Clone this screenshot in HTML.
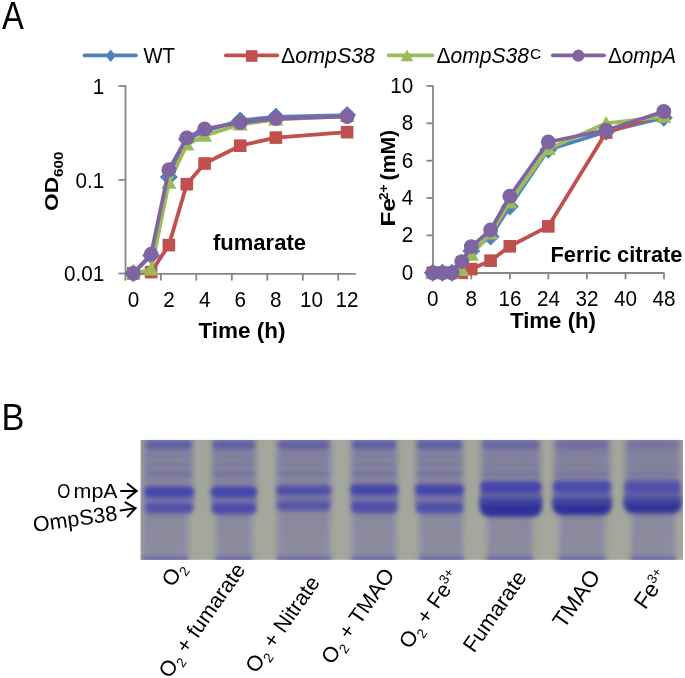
<!DOCTYPE html>
<html><head><meta charset="utf-8"><style>
html,body{margin:0;padding:0;background:#fff;}
svg{display:block;will-change:transform;}
</style></head><body>
<svg width="685" height="678" viewBox="0 0 685 678">
<defs>
<linearGradient id="lanegrad" gradientUnits="userSpaceOnUse" x1="0" y1="436" x2="0" y2="564"><stop offset="0" stop-color="#84829A"/><stop offset="0.35" stop-color="#86849B"/><stop offset="0.6" stop-color="#8A889C"/><stop offset="1" stop-color="#8E8D9C"/></linearGradient>
<filter id="blur1" x="-10%" y="-10%" width="120%" height="120%"><feGaussianBlur stdDeviation="1.9"/></filter>
<filter id="blur2" x="-10%" y="-10%" width="120%" height="120%"><feGaussianBlur stdDeviation="3"/></filter>
</defs>
<rect width="685" height="678" fill="#fff"/>
<text x="2" y="29" font-family="Liberation Sans, sans-serif" font-size="38" transform="translate(2 0) scale(0.86 1) translate(-2 0)">A</text>
<line x1="84.4" y1="55.4" x2="136" y2="55.4" stroke="#4F81BD" stroke-width="3.6" stroke-linecap="round"/>
<path d="M110.7 49.5L115.9 55.7L110.7 61.9L105.5 55.7Z" fill="#4F81BD"/>
<text id="lg1" x="143.5" y="63" font-family="Liberation Sans, sans-serif" font-size="22.5" textLength="31.5" lengthAdjust="spacingAndGlyphs">WT</text>
<line x1="225.8" y1="55.4" x2="277.4" y2="55.4" stroke="#C0504D" stroke-width="3.6" stroke-linecap="round"/>
<rect x="245.9" y="50.2" width="11.6" height="11.6" fill="#C0504D"/>
<text id="lg2" x="281" y="63" font-family="Liberation Sans, sans-serif" font-size="22.5" font-style="italic" textLength="94" lengthAdjust="spacingAndGlyphs"><tspan style="font-style:normal">&#916;</tspan>ompS38</text>
<line x1="388.5" y1="55.4" x2="432.5" y2="55.4" stroke="#9BBB59" stroke-width="3.6" stroke-linecap="round"/>
<path d="M407.0 49.6L413.3 61.3L400.7 61.3Z" fill="#9BBB59"/>
<text id="lg3" x="436.5" y="63" font-family="Liberation Sans, sans-serif" font-size="22.5" font-style="italic"><tspan textLength="92.5" lengthAdjust="spacingAndGlyphs"><tspan style="font-style:normal">&#916;</tspan>ompS38</tspan><tspan font-style="normal" font-size="15.5" dx="1" dy="-4.5">C</tspan></text>
<line x1="552.7" y1="55.4" x2="604.1" y2="55.4" stroke="#8064A2" stroke-width="3.6" stroke-linecap="round"/>
<circle cx="578.4" cy="55.7" r="6.1" fill="#8064A2"/>
<text id="lg4" x="608" y="63" font-family="Liberation Sans, sans-serif" font-size="22.5" font-style="italic" textLength="68" lengthAdjust="spacingAndGlyphs"><tspan style="font-style:normal">&#916;</tspan>ompA</text>
<g stroke="#868686" stroke-width="1.8" fill="none">
<line x1="125.5" y1="85.5" x2="125.5" y2="274.7"/>
<line x1="118.5" y1="86" x2="125.5" y2="86"/>
<line x1="118.5" y1="179.9" x2="125.5" y2="179.9"/>
<line x1="118.5" y1="273.5" x2="125.5" y2="273.5"/>
<line x1="124.6" y1="273.8" x2="356" y2="273.8"/>
<line x1="125.4" y1="273.8" x2="125.4" y2="280.6"/>
<line x1="160.9" y1="273.8" x2="160.9" y2="280.6"/>
<line x1="196.3" y1="273.8" x2="196.3" y2="280.6"/>
<line x1="231.8" y1="273.8" x2="231.8" y2="280.6"/>
<line x1="267.3" y1="273.8" x2="267.3" y2="280.6"/>
<line x1="302.8" y1="273.8" x2="302.8" y2="280.6"/>
<line x1="338.2" y1="273.8" x2="338.2" y2="280.6"/>
</g>
<text transform="translate(104.2 93.9) scale(0.92 1)" font-family="Liberation Sans, sans-serif" font-size="22.5" text-anchor="end">1</text>
<text transform="translate(104.2 187.9) scale(0.92 1)" font-family="Liberation Sans, sans-serif" font-size="22.5" text-anchor="end">0.1</text>
<text transform="translate(104.2 281.2) scale(0.92 1)" font-family="Liberation Sans, sans-serif" font-size="22.5" text-anchor="end">0.01</text>
<text transform="translate(133.6 307.3) scale(0.92 1)" font-family="Liberation Sans, sans-serif" font-size="22.5" text-anchor="middle">0</text>
<text transform="translate(169.1 307.3) scale(0.92 1)" font-family="Liberation Sans, sans-serif" font-size="22.5" text-anchor="middle">2</text>
<text transform="translate(204.7 307.3) scale(0.92 1)" font-family="Liberation Sans, sans-serif" font-size="22.5" text-anchor="middle">4</text>
<text transform="translate(240.2 307.3) scale(0.92 1)" font-family="Liberation Sans, sans-serif" font-size="22.5" text-anchor="middle">6</text>
<text transform="translate(275.8 307.3) scale(0.92 1)" font-family="Liberation Sans, sans-serif" font-size="22.5" text-anchor="middle">8</text>
<text transform="translate(311.4 307.3) scale(0.92 1)" font-family="Liberation Sans, sans-serif" font-size="22.5" text-anchor="middle">10</text>
<text transform="translate(346.9 307.3) scale(0.92 1)" font-family="Liberation Sans, sans-serif" font-size="22.5" text-anchor="middle">12</text>
<text id="tt1" x="198.5" y="337.8" font-family="Liberation Sans, sans-serif" font-size="22.5" font-weight="bold" textLength="87" lengthAdjust="spacingAndGlyphs">Time (h)</text>
<text id="tfu" x="213" y="249.6" font-family="Liberation Sans, sans-serif" font-size="22" font-weight="bold" textLength="93" lengthAdjust="spacingAndGlyphs">fumarate</text>
<text transform="translate(58.2 211) rotate(-90)" font-family="Liberation Sans, sans-serif" font-size="18" font-weight="bold"><tspan textLength="34" lengthAdjust="spacingAndGlyphs">OD</tspan><tspan font-size="12.5" dy="5" textLength="25.5" lengthAdjust="spacingAndGlyphs">600</tspan></text>
<g stroke="#868686" stroke-width="1.8" fill="none">
<line x1="433" y1="85.5" x2="433" y2="273"/>
<line x1="426.5" y1="272.8" x2="433" y2="272.8"/>
<line x1="426.5" y1="235.4" x2="433" y2="235.4"/>
<line x1="426.5" y1="198.0" x2="433" y2="198.0"/>
<line x1="426.5" y1="160.7" x2="433" y2="160.7"/>
<line x1="426.5" y1="123.3" x2="433" y2="123.3"/>
<line x1="426.5" y1="85.9" x2="433" y2="85.9"/>
<line x1="433" y1="273" x2="664.5" y2="273"/>
<line x1="432.8" y1="273" x2="432.8" y2="279.3"/>
<line x1="471.3" y1="273" x2="471.3" y2="279.3"/>
<line x1="509.9" y1="273" x2="509.9" y2="279.3"/>
<line x1="548.4" y1="273" x2="548.4" y2="279.3"/>
<line x1="586.9" y1="273" x2="586.9" y2="279.3"/>
<line x1="625.5" y1="273" x2="625.5" y2="279.3"/>
<line x1="664.0" y1="273" x2="664.0" y2="279.3"/>
</g>
<text transform="translate(413.2 279.6) scale(0.92 1)" font-family="Liberation Sans, sans-serif" font-size="22.5" text-anchor="end">0</text>
<text transform="translate(413.2 242.2) scale(0.92 1)" font-family="Liberation Sans, sans-serif" font-size="22.5" text-anchor="end">2</text>
<text transform="translate(413.2 204.8) scale(0.92 1)" font-family="Liberation Sans, sans-serif" font-size="22.5" text-anchor="end">4</text>
<text transform="translate(413.2 167.5) scale(0.92 1)" font-family="Liberation Sans, sans-serif" font-size="22.5" text-anchor="end">6</text>
<text transform="translate(413.2 130.1) scale(0.92 1)" font-family="Liberation Sans, sans-serif" font-size="22.5" text-anchor="end">8</text>
<text transform="translate(413.2 92.7) scale(0.92 1)" font-family="Liberation Sans, sans-serif" font-size="22.5" text-anchor="end">10</text>
<text transform="translate(432.8 305.5) scale(0.92 1)" font-family="Liberation Sans, sans-serif" font-size="22.5" text-anchor="middle">0</text>
<text transform="translate(471.3 305.5) scale(0.92 1)" font-family="Liberation Sans, sans-serif" font-size="22.5" text-anchor="middle">8</text>
<text transform="translate(509.9 305.5) scale(0.92 1)" font-family="Liberation Sans, sans-serif" font-size="22.5" text-anchor="middle">16</text>
<text transform="translate(548.4 305.5) scale(0.92 1)" font-family="Liberation Sans, sans-serif" font-size="22.5" text-anchor="middle">24</text>
<text transform="translate(586.9 305.5) scale(0.92 1)" font-family="Liberation Sans, sans-serif" font-size="22.5" text-anchor="middle">32</text>
<text transform="translate(625.5 305.5) scale(0.92 1)" font-family="Liberation Sans, sans-serif" font-size="22.5" text-anchor="middle">40</text>
<text transform="translate(664.0 305.5) scale(0.92 1)" font-family="Liberation Sans, sans-serif" font-size="22.5" text-anchor="middle">48</text>
<text id="tt2" x="510" y="328" font-family="Liberation Sans, sans-serif" font-size="22.5" font-weight="bold" textLength="86" lengthAdjust="spacingAndGlyphs">Time (h)</text>
<text id="tfc" x="550.5" y="261.6" font-family="Liberation Sans, sans-serif" font-size="22.5" font-weight="bold" textLength="132" lengthAdjust="spacingAndGlyphs">Ferric citrate</text>
<text id="tFe" transform="translate(395 226.6) rotate(-90)" font-family="Liberation Sans, sans-serif" font-size="19.5" font-weight="bold" textLength="28.5" lengthAdjust="spacingAndGlyphs">Fe</text>
<text id="t2p" transform="translate(388.2 200) rotate(-90)" font-family="Liberation Sans, sans-serif" font-size="13.5" font-weight="bold" textLength="15.5" lengthAdjust="spacingAndGlyphs">2+</text>
<text id="tmM" transform="translate(394.6 180.4) rotate(-90)" font-family="Liberation Sans, sans-serif" font-size="20.5" font-weight="bold" textLength="50.5" lengthAdjust="spacingAndGlyphs">(mM)</text>
<polyline points="133.3,273.3 151.1,255.5 168.9,176.9 186.8,139.3 204.6,131.2 240.2,120.4 275.9,116.8 347.1,115.1" fill="none" stroke="#4F81BD" stroke-width="3.8" stroke-linejoin="round"/>
<path d="M133.3 264.3L142.3 273.3L133.3 282.3L124.3 273.3Z" fill="#4F81BD"/>
<path d="M151.1 246.5L160.1 255.5L151.1 264.5L142.1 255.5Z" fill="#4F81BD"/>
<path d="M168.9 167.9L177.9 176.9L168.9 185.9L159.9 176.9Z" fill="#4F81BD"/>
<path d="M186.8 130.3L195.8 139.3L186.8 148.3L177.8 139.3Z" fill="#4F81BD"/>
<path d="M204.6 122.2L213.6 131.2L204.6 140.2L195.6 131.2Z" fill="#4F81BD"/>
<path d="M240.2 111.4L249.2 120.4L240.2 129.4L231.2 120.4Z" fill="#4F81BD"/>
<path d="M275.9 107.8L284.9 116.8L275.9 125.8L266.9 116.8Z" fill="#4F81BD"/>
<path d="M347.1 106.1L356.1 115.1L347.1 124.1L338.1 115.1Z" fill="#4F81BD"/>
<polyline points="133.3,273.3 151.1,272.1 168.9,245.1 186.8,184.2 204.6,163.5 240.2,145.7 275.9,137.6 347.1,132.2" fill="none" stroke="#C0504D" stroke-width="3.8" stroke-linejoin="round"/>
<rect x="127.0" y="267.0" width="12.6" height="12.6" fill="#C0504D"/>
<rect x="144.8" y="265.8" width="12.6" height="12.6" fill="#C0504D"/>
<rect x="162.6" y="238.8" width="12.6" height="12.6" fill="#C0504D"/>
<rect x="180.5" y="177.9" width="12.6" height="12.6" fill="#C0504D"/>
<rect x="198.3" y="157.2" width="12.6" height="12.6" fill="#C0504D"/>
<rect x="233.9" y="139.4" width="12.6" height="12.6" fill="#C0504D"/>
<rect x="269.6" y="131.3" width="12.6" height="12.6" fill="#C0504D"/>
<rect x="340.8" y="125.9" width="12.6" height="12.6" fill="#C0504D"/>
<polyline points="133.3,273.3 151.1,269.4 168.9,182.6 186.8,144.5 204.6,135.7 240.2,124.4 275.9,119.5 347.1,115.9" fill="none" stroke="#9BBB59" stroke-width="3.8" stroke-linejoin="round"/>
<path d="M133.3 265.9L140.9 279.4L125.7 279.4Z" fill="#9BBB59"/>
<path d="M151.1 262.0L158.7 275.5L143.5 275.5Z" fill="#9BBB59"/>
<path d="M168.9 175.2L176.5 188.7L161.3 188.7Z" fill="#9BBB59"/>
<path d="M186.8 137.0L194.4 150.5L179.2 150.5Z" fill="#9BBB59"/>
<path d="M204.6 128.3L212.2 141.8L197.0 141.8Z" fill="#9BBB59"/>
<path d="M240.2 117.0L247.8 130.5L232.6 130.5Z" fill="#9BBB59"/>
<path d="M275.9 112.0L283.5 125.5L268.3 125.5Z" fill="#9BBB59"/>
<path d="M347.1 108.5L354.7 122.0L339.5 122.0Z" fill="#9BBB59"/>
<polyline points="133.3,273.3 151.1,254.2 168.9,169.7 186.8,137.8 204.6,128.9 240.2,122.6 275.9,118.5 347.1,116.5" fill="none" stroke="#8064A2" stroke-width="3.8" stroke-linejoin="round"/>
<circle cx="133.3" cy="273.3" r="7.4" fill="#8064A2"/>
<circle cx="151.1" cy="254.2" r="7.4" fill="#8064A2"/>
<circle cx="168.9" cy="169.7" r="7.4" fill="#8064A2"/>
<circle cx="186.8" cy="137.8" r="7.4" fill="#8064A2"/>
<circle cx="204.6" cy="128.9" r="7.4" fill="#8064A2"/>
<circle cx="240.2" cy="122.6" r="7.4" fill="#8064A2"/>
<circle cx="275.9" cy="118.5" r="7.4" fill="#8064A2"/>
<circle cx="347.1" cy="116.5" r="7.4" fill="#8064A2"/>
<polyline points="432.8,272.8 442.4,272.8 452.1,272.8 461.7,267.2 471.3,251.1 490.6,236.4 509.8,206.5 548.3,149.8 606.1,131.7 663.8,117.7" fill="none" stroke="#4F81BD" stroke-width="3.8" stroke-linejoin="round"/>
<path d="M432.8 263.8L441.8 272.8L432.8 281.8L423.8 272.8Z" fill="#4F81BD"/>
<path d="M442.4 263.8L451.4 272.8L442.4 281.8L433.4 272.8Z" fill="#4F81BD"/>
<path d="M452.1 263.8L461.1 272.8L452.1 281.8L443.1 272.8Z" fill="#4F81BD"/>
<path d="M461.7 258.2L470.7 267.2L461.7 276.2L452.7 267.2Z" fill="#4F81BD"/>
<path d="M471.3 242.1L480.3 251.1L471.3 260.1L462.3 251.1Z" fill="#4F81BD"/>
<path d="M490.6 227.4L499.6 236.4L490.6 245.4L481.6 236.4Z" fill="#4F81BD"/>
<path d="M509.8 197.5L518.8 206.5L509.8 215.5L500.8 206.5Z" fill="#4F81BD"/>
<path d="M548.3 140.8L557.3 149.8L548.3 158.8L539.3 149.8Z" fill="#4F81BD"/>
<path d="M606.1 122.7L615.1 131.7L606.1 140.7L597.1 131.7Z" fill="#4F81BD"/>
<path d="M663.8 108.7L672.8 117.7L663.8 126.7L654.8 117.7Z" fill="#4F81BD"/>
<polyline points="432.8,272.8 442.4,272.8 452.1,272.8 461.7,272.8 471.3,269.1 490.6,260.7 509.8,246.3 548.3,226.4 606.1,132.6 663.8,113.9" fill="none" stroke="#C0504D" stroke-width="3.8" stroke-linejoin="round"/>
<rect x="426.5" y="266.5" width="12.6" height="12.6" fill="#C0504D"/>
<rect x="436.1" y="266.5" width="12.6" height="12.6" fill="#C0504D"/>
<rect x="445.8" y="266.5" width="12.6" height="12.6" fill="#C0504D"/>
<rect x="455.4" y="266.5" width="12.6" height="12.6" fill="#C0504D"/>
<rect x="465.0" y="262.8" width="12.6" height="12.6" fill="#C0504D"/>
<rect x="484.3" y="254.4" width="12.6" height="12.6" fill="#C0504D"/>
<rect x="503.5" y="240.0" width="12.6" height="12.6" fill="#C0504D"/>
<rect x="542.0" y="220.1" width="12.6" height="12.6" fill="#C0504D"/>
<rect x="599.8" y="126.3" width="12.6" height="12.6" fill="#C0504D"/>
<rect x="657.5" y="107.6" width="12.6" height="12.6" fill="#C0504D"/>
<polyline points="432.8,272.8 442.4,272.8 452.1,272.8 461.7,270.0 471.3,254.7 490.6,233.6 509.8,202.3 548.3,148.9 606.1,123.3 663.8,116.7" fill="none" stroke="#9BBB59" stroke-width="3.8" stroke-linejoin="round"/>
<path d="M432.8 265.4L440.4 278.9L425.2 278.9Z" fill="#9BBB59"/>
<path d="M442.4 265.4L450.0 278.9L434.8 278.9Z" fill="#9BBB59"/>
<path d="M452.1 265.4L459.7 278.9L444.5 278.9Z" fill="#9BBB59"/>
<path d="M461.7 262.6L469.3 276.1L454.1 276.1Z" fill="#9BBB59"/>
<path d="M471.3 247.2L478.9 260.7L463.7 260.7Z" fill="#9BBB59"/>
<path d="M490.6 226.1L498.2 239.6L483.0 239.6Z" fill="#9BBB59"/>
<path d="M509.8 194.9L517.4 208.4L502.2 208.4Z" fill="#9BBB59"/>
<path d="M548.3 141.5L555.9 155.0L540.7 155.0Z" fill="#9BBB59"/>
<path d="M606.1 115.9L613.7 129.4L598.5 129.4Z" fill="#9BBB59"/>
<path d="M663.8 109.3L671.4 122.8L656.2 122.8Z" fill="#9BBB59"/>
<polyline points="432.8,272.8 442.4,272.8 452.1,272.8 461.7,261.6 471.3,246.6 490.6,230.0 509.8,196.2 548.3,142.0 606.1,130.2 663.8,111.5" fill="none" stroke="#8064A2" stroke-width="3.8" stroke-linejoin="round"/>
<circle cx="432.8" cy="272.8" r="7.4" fill="#8064A2"/>
<circle cx="442.4" cy="272.8" r="7.4" fill="#8064A2"/>
<circle cx="452.1" cy="272.8" r="7.4" fill="#8064A2"/>
<circle cx="461.7" cy="261.6" r="7.4" fill="#8064A2"/>
<circle cx="471.3" cy="246.6" r="7.4" fill="#8064A2"/>
<circle cx="490.6" cy="230.0" r="7.4" fill="#8064A2"/>
<circle cx="509.8" cy="196.2" r="7.4" fill="#8064A2"/>
<circle cx="548.3" cy="142.0" r="7.4" fill="#8064A2"/>
<circle cx="606.1" cy="130.2" r="7.4" fill="#8064A2"/>
<circle cx="663.8" cy="111.5" r="7.4" fill="#8064A2"/>
<text id="tB" transform="translate(1.5 430.4) scale(0.93 1)" font-family="Liberation Sans, sans-serif" font-size="37">B</text>
<rect x="140.6" y="439.9" width="542.4" height="119.9" fill="#A4A79B"/>
<clipPath id="gclip"><rect x="140.6" y="439.9" width="542.4" height="119.9"/></clipPath>
<g clip-path="url(#gclip)">
<g filter="url(#blur2)">
<rect x="145.3" y="435.9" width="47.7" height="76.1" fill="url(#lanegrad)"/>
<rect x="142.5" y="435.9" width="45.0" height="127.9" fill="url(#lanegrad)"/>
<rect x="143.0" y="435.9" width="5" height="127.9" fill="#8080C0" opacity="0.3"/>
<rect x="182.0" y="435.9" width="5" height="127.9" fill="#8080C0" opacity="0.3"/>
<rect x="211.8" y="435.9" width="44.2" height="76.1" fill="url(#lanegrad)"/>
<rect x="216.2" y="435.9" width="35.7" height="127.9" fill="url(#lanegrad)"/>
<rect x="216.7" y="435.9" width="5" height="127.9" fill="#8080C0" opacity="0.3"/>
<rect x="246.4" y="435.9" width="5" height="127.9" fill="#8080C0" opacity="0.3"/>
<rect x="277.0" y="435.9" width="53.5" height="76.1" fill="url(#lanegrad)"/>
<rect x="277.8" y="435.9" width="52.1" height="127.9" fill="url(#lanegrad)"/>
<rect x="278.3" y="435.9" width="5" height="127.9" fill="#8080C0" opacity="0.3"/>
<rect x="324.4" y="435.9" width="5" height="127.9" fill="#8080C0" opacity="0.3"/>
<rect x="351.1" y="435.9" width="46.1" height="76.1" fill="url(#lanegrad)"/>
<rect x="352.4" y="435.9" width="42.9" height="127.9" fill="url(#lanegrad)"/>
<rect x="352.9" y="435.9" width="5" height="127.9" fill="#8080C0" opacity="0.3"/>
<rect x="389.8" y="435.9" width="5" height="127.9" fill="#8080C0" opacity="0.3"/>
<rect x="416.0" y="435.9" width="47.1" height="76.1" fill="url(#lanegrad)"/>
<rect x="419.9" y="435.9" width="43.0" height="127.9" fill="url(#lanegrad)"/>
<rect x="420.4" y="435.9" width="5" height="127.9" fill="#8080C0" opacity="0.3"/>
<rect x="457.4" y="435.9" width="5" height="127.9" fill="#8080C0" opacity="0.3"/>
<rect x="481.2" y="435.9" width="59.3" height="76.1" fill="url(#lanegrad)"/>
<rect x="487.4" y="435.9" width="44.9" height="127.9" fill="url(#lanegrad)"/>
<rect x="487.9" y="435.9" width="5" height="127.9" fill="#8080C0" opacity="0.3"/>
<rect x="526.8" y="435.9" width="5" height="127.9" fill="#8080C0" opacity="0.3"/>
<rect x="554.0" y="435.9" width="56.1" height="76.1" fill="url(#lanegrad)"/>
<rect x="559.5" y="435.9" width="45.6" height="127.9" fill="url(#lanegrad)"/>
<rect x="560.0" y="435.9" width="5" height="127.9" fill="#8080C0" opacity="0.3"/>
<rect x="599.6" y="435.9" width="5" height="127.9" fill="#8080C0" opacity="0.3"/>
<rect x="625.2" y="435.9" width="55.0" height="76.1" fill="url(#lanegrad)"/>
<rect x="631.5" y="435.9" width="43.5" height="127.9" fill="url(#lanegrad)"/>
<rect x="632.0" y="435.9" width="5" height="127.9" fill="#8080C0" opacity="0.3"/>
<rect x="669.5" y="435.9" width="5" height="127.9" fill="#8080C0" opacity="0.3"/>
</g>
<g filter="url(#blur1)">
<rect x="146.8" y="440.8" width="44.7" height="8.5" rx="3" fill="#5C58A6" opacity="0.85"/>
<rect x="146.3" y="453.5" width="45.7" height="3" fill="#66629E" opacity="0.28"/>
<rect x="146.3" y="462.8" width="45.7" height="3.4" fill="#66629E" opacity="0.32"/>
<rect x="146.3" y="471.8" width="45.7" height="4.4" fill="#66629E" opacity="0.56"/>
<rect x="144.8" y="488.0" width="48.7" height="20.3" fill="#6C68A8" opacity="0.6"/>
<rect x="144.3" y="486.5" width="49.7" height="11" rx="5" fill="#4446AC" opacity="1.00"/>
<rect x="145.3" y="503.1" width="47.7" height="10.5" rx="5" fill="#4B4AAA" opacity="0.85"/>
<rect x="142.0" y="556.3" width="46.0" height="6" fill="#6662AA" opacity="0.8"/>
<rect x="213.3" y="440.8" width="41.2" height="8.5" rx="3" fill="#5C58A6" opacity="0.85"/>
<rect x="212.8" y="453.5" width="42.2" height="3" fill="#66629E" opacity="0.28"/>
<rect x="212.8" y="462.8" width="42.2" height="3.4" fill="#66629E" opacity="0.32"/>
<rect x="212.8" y="471.8" width="42.2" height="4.4" fill="#66629E" opacity="0.56"/>
<rect x="211.3" y="488.0" width="45.2" height="20.8" fill="#6C68A8" opacity="0.6"/>
<rect x="210.8" y="486.5" width="46.2" height="11" rx="5" fill="#4446AC" opacity="1.00"/>
<rect x="211.8" y="503.3" width="44.2" height="11" rx="5" fill="#4B4AAA" opacity="0.95"/>
<rect x="215.7" y="556.3" width="36.7" height="6" fill="#6662AA" opacity="0.8"/>
<rect x="278.5" y="440.8" width="50.5" height="8.5" rx="3" fill="#5C58A6" opacity="0.8"/>
<rect x="278.0" y="453.5" width="51.5" height="3" fill="#66629E" opacity="0.24"/>
<rect x="278.0" y="462.8" width="51.5" height="3.4" fill="#66629E" opacity="0.27"/>
<rect x="278.0" y="471.8" width="51.5" height="4.4" fill="#66629E" opacity="0.48"/>
<rect x="276.5" y="486.3" width="54.5" height="19.9" fill="#6C68A8" opacity="0.6"/>
<rect x="276.0" y="485.6" width="55.5" height="9.5" rx="5" fill="#4446AC" opacity="0.80"/>
<rect x="277.0" y="501.4" width="53.5" height="9.5" rx="5" fill="#4B4AAA" opacity="0.75"/>
<rect x="277.3" y="556.3" width="53.1" height="6" fill="#6662AA" opacity="0.8"/>
<rect x="352.6" y="440.8" width="43.1" height="8.5" rx="3" fill="#5C58A6" opacity="0.85"/>
<rect x="352.1" y="453.5" width="44.1" height="3" fill="#66629E" opacity="0.28"/>
<rect x="352.1" y="462.8" width="44.1" height="3.4" fill="#66629E" opacity="0.32"/>
<rect x="352.1" y="471.8" width="44.1" height="4.4" fill="#66629E" opacity="0.56"/>
<rect x="350.6" y="485.8" width="47.1" height="21.7" fill="#6C68A8" opacity="0.6"/>
<rect x="350.1" y="484.3" width="48.1" height="11" rx="5" fill="#4446AC" opacity="1.00"/>
<rect x="351.1" y="501.8" width="46.1" height="11.5" rx="5" fill="#4B4AAA" opacity="0.90"/>
<rect x="351.9" y="556.3" width="43.9" height="6" fill="#6662AA" opacity="0.8"/>
<rect x="417.5" y="440.8" width="44.1" height="8.5" rx="3" fill="#5C58A6" opacity="0.85"/>
<rect x="417.0" y="453.5" width="45.1" height="3" fill="#66629E" opacity="0.28"/>
<rect x="417.0" y="462.8" width="45.1" height="3.4" fill="#66629E" opacity="0.32"/>
<rect x="417.0" y="471.8" width="45.1" height="4.4" fill="#66629E" opacity="0.56"/>
<rect x="415.5" y="485.8" width="48.1" height="22.2" fill="#6C68A8" opacity="0.6"/>
<rect x="415.0" y="484.3" width="49.1" height="11" rx="5" fill="#4446AC" opacity="1.00"/>
<rect x="416.0" y="502.5" width="47.1" height="11" rx="5" fill="#4B4AAA" opacity="0.90"/>
<rect x="419.4" y="556.3" width="44.0" height="6" fill="#6662AA" opacity="0.8"/>
<rect x="482.7" y="440.8" width="56.3" height="8.5" rx="3" fill="#5C58A6" opacity="0.7"/>
<rect x="482.2" y="453.5" width="57.3" height="3" fill="#66629E" opacity="0.24"/>
<rect x="482.2" y="462.8" width="57.3" height="3.4" fill="#66629E" opacity="0.27"/>
<rect x="482.2" y="471.8" width="57.3" height="4.4" fill="#66629E" opacity="0.48"/>
<rect x="480.7" y="483.0" width="60.3" height="14.2" fill="#5E5BAA" opacity="0.8"/>
<rect x="480.2" y="481.2" width="61.3" height="11.5" rx="5" fill="#4446AC" opacity="0.95"/>
<path d="M479.2 497.2 L542.5 497.2 L542.0 508.9 Q540.0 516.9 531.0 516.9 L490.7 516.9 Q481.7 516.9 479.7 508.9Z" fill="#42449E" opacity="1.00"/>
<path d="M480.7 504.2 L541.0 504.2 L540.5 509.9 Q539.0 515.9 531.0 515.9 L490.7 515.9 Q482.7 515.9 481.2 509.9Z" fill="#2D3398" opacity="1.00"/>
<rect x="486.9" y="556.3" width="45.9" height="6" fill="#6662AA" opacity="0.8"/>
<rect x="555.5" y="440.8" width="53.1" height="8.5" rx="3" fill="#5C58A6" opacity="0.5"/>
<rect x="555.0" y="453.5" width="54.1" height="3" fill="#66629E" opacity="0.22"/>
<rect x="555.0" y="462.8" width="54.1" height="3.4" fill="#66629E" opacity="0.25"/>
<rect x="555.0" y="471.8" width="54.1" height="4.4" fill="#66629E" opacity="0.44"/>
<rect x="553.5" y="482.5" width="57.1" height="15.2" fill="#5E5BAA" opacity="0.8"/>
<rect x="553.0" y="480.8" width="58.1" height="11.5" rx="5" fill="#4446AC" opacity="0.85"/>
<path d="M552.0 497.7 L612.1 497.7 L611.6 507.2 Q609.6 515.2 600.6 515.2 L563.5 515.2 Q554.5 515.2 552.5 507.2Z" fill="#42449E" opacity="1.00"/>
<path d="M553.5 504.7 L610.6 504.7 L610.1 508.2 Q608.6 514.2 600.6 514.2 L563.5 514.2 Q555.5 514.2 554.0 508.2Z" fill="#2D3398" opacity="1.00"/>
<rect x="559.0" y="556.3" width="46.6" height="6" fill="#6662AA" opacity="0.8"/>
<rect x="626.7" y="440.8" width="52.0" height="8.5" rx="3" fill="#5C58A6" opacity="0.35"/>
<rect x="626.2" y="453.5" width="53.0" height="3" fill="#66629E" opacity="0.18"/>
<rect x="626.2" y="462.8" width="53.0" height="3.4" fill="#66629E" opacity="0.20"/>
<rect x="626.2" y="471.8" width="53.0" height="4.4" fill="#66629E" opacity="0.36"/>
<rect x="624.7" y="482.5" width="56.0" height="13.7" fill="#5E5BAA" opacity="0.8"/>
<rect x="624.2" y="480.0" width="57.0" height="13" rx="5" fill="#4446AC" opacity="0.60"/>
<path d="M623.2 496.2 L682.2 496.2 L681.7 505.7 Q679.7 513.7 670.7 513.7 L634.7 513.7 Q625.7 513.7 623.7 505.7Z" fill="#42449E" opacity="0.92"/>
<path d="M624.7 503.2 L680.7 503.2 L680.2 506.7 Q678.7 512.7 670.7 512.7 L634.7 512.7 Q626.7 512.7 625.2 506.7Z" fill="#2D3398" opacity="0.92"/>
<rect x="631.0" y="556.3" width="44.5" height="6" fill="#6662AA" opacity="0.8"/>
</g>
</g>
<text id="tO" transform="translate(57.2 497.8) scale(0.8 1)" font-family="Liberation Sans, sans-serif" font-size="21">O</text>
<text id="tmpA" x="73.6" y="497.8" font-family="Liberation Sans, sans-serif" font-size="21" textLength="44" lengthAdjust="spacingAndGlyphs">mpA</text>
<text id="tS38" transform="translate(34 532) rotate(-8)" font-family="Liberation Sans, sans-serif" font-size="21.5">OmpS38</text>
<g transform="translate(121 490.9) rotate(0)" stroke="#000" stroke-width="2" fill="none" stroke-linecap="round"><line x1="0" y1="0" x2="15.6" y2="0"/><polyline points="6.6,-7.2 15.6,0 6.6,7.2" stroke-linejoin="miter"/></g>
<g transform="translate(120.6 510.4) rotate(-8.5)" stroke="#000" stroke-width="2" fill="none" stroke-linecap="round"><line x1="0" y1="0" x2="15" y2="0"/><polyline points="6,-7.2 15,0 6,7.2" stroke-linejoin="miter"/></g>
<text id="lab0" transform="translate(172.4 587.9) rotate(-55)" font-family="Liberation Sans, sans-serif" font-size="21.5">O<tspan font-size="13.6" dy="5">2</tspan></text>
<text id="lab1" transform="translate(169.4 679.2) rotate(-55)" font-family="Liberation Sans, sans-serif" font-size="21.5">O<tspan font-size="13.6" dy="5">2</tspan><tspan dy="-5"> + fumarate</tspan></text>
<text id="lab2" transform="translate(256.3 674.3) rotate(-55)" font-family="Liberation Sans, sans-serif" font-size="21.5">O<tspan font-size="13.6" dy="5">2</tspan><tspan dy="-5"> + Nitrate</tspan></text>
<text id="lab3" transform="translate(332.0 665.4) rotate(-55)" font-family="Liberation Sans, sans-serif" font-size="21.5">O<tspan font-size="13.6" dy="5">2</tspan><tspan dy="-5"> + TMAO</tspan></text>
<text id="lab4" transform="translate(409.8 650.0) rotate(-55)" font-family="Liberation Sans, sans-serif" font-size="21.5">O<tspan font-size="13.6" dy="5">2</tspan><tspan dy="-5"> + Fe</tspan><tspan font-size="13.6" dy="-8">3+</tspan></text>
<text id="lab5" transform="translate(474.0 653.8) rotate(-55)" font-family="Liberation Sans, sans-serif" font-size="21.8">Fumarate</text>
<text id="lab6" transform="translate(563.9 629.6) rotate(-55)" font-family="Liberation Sans, sans-serif" font-size="22.5">TMAO</text>
<text id="lab7" transform="translate(645.2 610.6) rotate(-55)" font-family="Liberation Sans, sans-serif" font-size="22.5">Fe<tspan font-size="13.6" dy="-8">3+</tspan></text>
</svg>
</body></html>
